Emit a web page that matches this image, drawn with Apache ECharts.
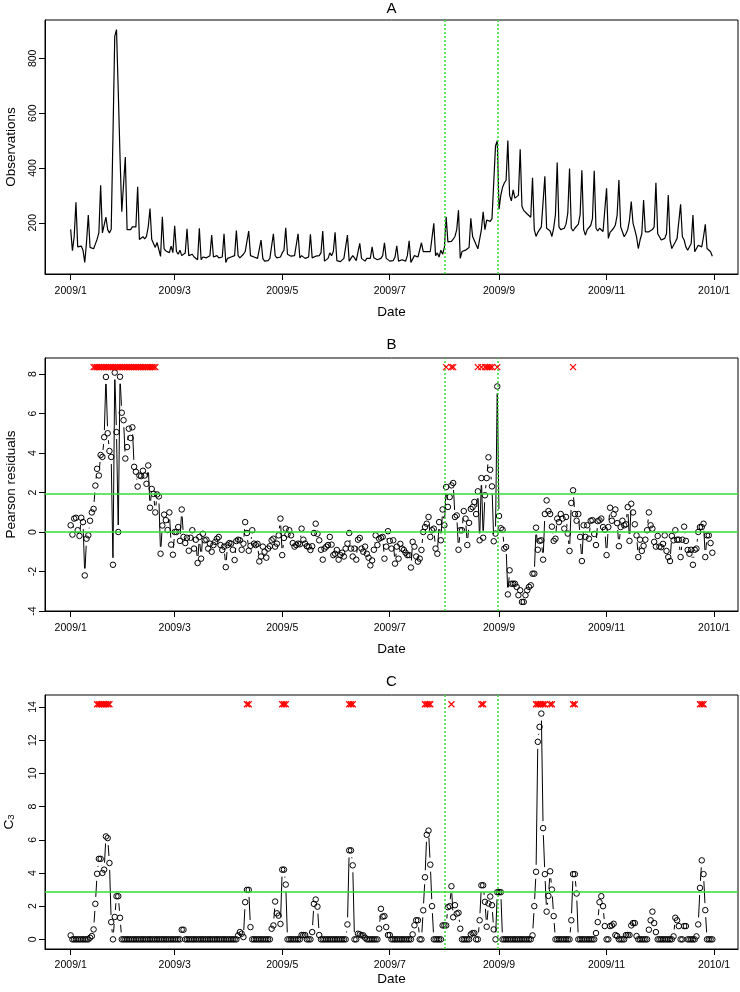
<!DOCTYPE html>
<html><head><meta charset="utf-8">
<script src="https://cdn.jsdelivr.net/npm/echarts@6/dist/echarts.min.js"></script>
<style>html,body{margin:0;padding:0;background:#fff}#c{width:740px;height:992px}</style>
</head><body><div id="c"></div>
<script>
// Daily observations, 2009-01-01 .. 2009-12-31 (one row = one week starting Thursday)
const observations = [
176,98,150,275,112,108,115,
100,55,130,228,110,110,105,
122,140,163,337,163,170,221,
175,163,176,520,880,905,680,
440,240,245,440,175,180,175,
185,180,185,331,139,143,149,
141,150,185,252,139,133,110,
128,128,77,222,105,97,103,
91,115,91,189,95,85,100,
80,85,90,178,80,80,85,
75,70,65,180,65,75,75,
72,70,80,155,75,78,80,
72,70,75,160,55,70,70,
75,70,80,172,80,72,70,
85,95,100,170,80,75,75,
72,70,75,137,70,60,55,
62,70,75,160,80,72,78,
75,90,100,182,85,80,78,
75,80,82,160,72,80,75,
70,68,75,158,72,70,78,
75,80,90,170,60,65,70,
90,80,95,165,62,60,58,
60,70,65,155,60,65,80,
72,62,60,125,70,65,60,
70,75,70,112,72,68,65,
62,70,80,127,70,68,60,
58,62,75,116,60,55,65,
70,60,80,134,55,50,80,
85,75,80,127,95,90,95,
100,95,90,198,80,90,75,
100,85,110,222,130,128,132,
140,150,175,246,70,95,90,
100,95,110,216,150,135,120,
105,110,175,240,175,210,205,
205,215,210,480,500,250,300,
330,345,355,500,300,280,320,
290,290,300,468,260,245,240,
232,225,220,364,175,150,165,
160,185,190,370,180,178,170,
150,180,230,420,185,175,170,
180,195,235,398,180,170,180,
180,195,230,392,175,155,175,
180,190,215,390,180,170,180,
175,168,165,326,143,165,165,
180,192,228,356,185,167,149,
160,175,210,277,199,175,149,
106,137,160,283,167,160,167,
165,175,185,346,160,149,137,
130,143,160,301,137,106,118,
130,143,149,267,149,137,112,
100,94,124,228,94,106,118,
118,112,149,194,106,106,94,
78];

const pearsonResiduals = [
0.34,-0.13,0.68,0.72,0.09,-0.2,0.72,0.5,-2.2,-0.34,
-0.17,0.57,0.99,1.17,2.35,3.2,2.86,3.9,3.8,4.8,
7.85,5.0,4.1,3.8,-1.66,8.07,5.06,0.0,7.86,6.04,
5.66,3.72,4.3,5.23,4.76,5.3,3.3,3.05,2.3,2.86,
2.83,3.1,2.86,2.44,3.37,1.23,2.18,1.93,0.99,1.9,
1.8,-1.1,0.33,0.88,0.6,0.1,0.99,-0.64,-1.15,0.0,
0.0,0.25,-0.45,1.14,-0.25,-0.56,-0.29,-0.95,-0.29,0.09,
-0.84,-0.39,-1.57,-0.25,-1.35,-0.09,-0.42,-0.39,-0.84,-0.59,
-1.0,-0.66,-0.5,-0.34,-0.25,-0.66,-0.91,-0.74,-1.78,-0.66,
-0.56,-0.59,-0.9,-1.42,-0.46,-0.39,-0.42,-0.9,-0.59,0.5,
-0.05,-0.95,-0.7,0.09,-0.59,-0.66,-0.6,-1.49,-1.24,-0.74,
-1.0,-1.3,-0.84,-0.72,-0.42,-0.34,-0.74,-0.59,-0.17,0.68,
-1.17,-0.3,0.17,-0.12,0.09,-0.17,-0.56,-0.74,-0.66,-0.59,
-0.62,0.17,-0.39,-0.59,-0.72,-0.74,-0.91,-0.72,-0.05,0.42,
-0.09,-0.42,-0.9,-1.4,-0.84,-0.74,-0.66,-0.25,-0.64,-1.17,
-1.1,-0.91,-1.4,-1.17,-1.05,-1.24,-0.84,-0.59,-0.05,-0.84,
-1.24,-0.84,-1.4,-0.39,-0.3,-0.84,-1.0,-0.74,-1.1,-1.3,
-1.69,-1.44,-0.9,-0.17,-0.66,-0.34,-0.29,-0.25,-1.35,-0.74,
0.04,-0.45,-0.84,-0.42,-1.6,-0.74,-1.35,-0.6,-0.84,-0.91,
-1.05,-1.17,-1.17,-1.8,-0.5,-0.74,-1.24,-1.5,-1.35,-0.91,
0.0,0.25,0.42,0.76,-0.25,0.09,0.17,-0.84,-1.1,0.5,
-0.42,1.14,0.34,2.28,1.27,1.77,2.36,2.48,0.76,0.84,
-0.9,0.09,0.09,1.06,0.68,-0.66,0.46,1.17,1.26,1.52,
0.91,2.06,-0.42,2.73,-0.29,1.86,2.73,3.78,3.15,2.31,
-0.47,-0.08,7.37,0.81,0.19,0.11,-0.84,-0.76,-3.16,-1.94,
-2.62,-2.62,-2.62,-2.78,-3.2,-2.95,-3.54,-3.54,-3.2,-2.95,
-2.78,-2.7,-2.11,-2.11,0.22,-0.9,-0.45,-0.42,-1.4,0.91,
1.6,1.06,0.91,0.27,-0.45,-0.34,0.68,0.5,0.91,0.68,
0.17,0.76,-0.08,-0.96,1.47,2.11,0.91,0.57,0.91,-0.25,
-1.47,0.34,-0.25,0.34,-0.34,0.57,0.6,-0.1,-0.66,0.55,
0.59,0.68,0.25,0.12,-1.17,0.25,1.23,0.57,0.9,1.14,
0.45,-0.72,0.25,0.57,0.34,0.39,1.26,-0.45,1.43,0.99,
0.39,-0.17,-1.27,-0.39,-0.96,-0.7,-0.39,0.09,0.99,0.34,
0.17,-0.5,-0.74,-0.2,-0.74,-0.77,-0.6,-0.17,-0.96,-1.27,
-1.47,-0.2,-0.42,0.09,-0.39,-0.39,-1.27,-0.39,0.27,-0.45,
-0.91,-1.1,-0.9,-1.66,-0.9,-0.84,0.0,0.25,0.25,0.42,
-1.27,-0.17,-0.17,-0.56,-1.05];

const c3Values = [
0.24,0,0,0,0,0,0,0,0,0,
0,0.1,0.2,0.6,2.14,3.95,4.85,4.85,4.0,4.2,
6.2,6.1,4.6,1.04,0,1.35,2.6,2.6,1.3,0,
0,0,0,0,0,0,0,0,0,0,
0,0,0,0,0,0,0,0,0,0,
0,0,0,0,0,0,0,0,0,0,
0,0,0,0.58,0.58,0,0,0,0,0,
0,0,0,0,0,0,0,0,0,0,
0,0,0,0,0,0,0,0,0,0,
0,0,0,0,0,0.24,0.44,0.34,0.14,2.24,
2.98,2.98,0.74,0,0,0,0,0,0,0,
0,0,0,0,0.64,0.84,2.28,1.57,1.43,0.93,
4.2,4.2,3.3,0,0,0,0,0,0,0,
0,0.26,0.26,0.26,0,0,0,0.44,2.14,2.4,
1.97,0.26,0,0,0,0,0,0,0,0,
0,0,0,0,0,0,0,0.9,5.36,5.36,
4.46,0,0,0.34,0.3,0.24,0.24,0.1,0,0,
0,0,0,0,0,0.65,1.84,1.37,1.4,0.74,
0.26,0.26,0,0,0,0,0,0,0,0,
0,0,0,0,0.3,0.85,1.15,1.15,0,0,
1.75,3.74,6.3,6.55,4.5,2.0,0,0,0,0,
0,0.84,0.84,0.84,1.94,2.0,3.2,1.33,2.06,1.55,
1.6,0.64,0,0,0,0,0,0.3,0.38,0.38,
0,0,1.15,3.26,3.26,2.26,0.76,2.16,2.58,2.06,
0.6,0,2.84,2.84,2.84,0,0,0,0,0,
0,0,0,0,0,0,0,0,0,0,
0,0,0.24,2.0,4.07,11.9,12.8,13.6,6.7,3.93,
1.67,2.62,4.1,3.0,1.4,0,0,0,0,0,
0,0,0,0,1.15,3.93,3.93,2.76,0,0,
0,0,0,0,0,0,0,0,0.38,1.04,
2.24,2.6,2.0,0.8,0,0,0.8,0.84,0.94,0.26,
0.2,0,0,0,0,0.26,0.26,0.26,0.84,0.98,
0.98,0.2,0,0,0,0,0,0,0.58,1.15,
1.67,0.98,0.44,0,0,0,0,0,0,0,
0,0,0.18,1.3,1.15,0.8,0,0,0.8,0.8,
0,0,0,0,0,0.18,0.9,3.1,4.76,3.93,
1.76,0,0,0,0];

// alarm days (index from 2009-01-01)
const alarmDaysB = [13,14,15,16,17,18,19,20,21,22,23,24,25,26,27,28,29,30,31,32,33,34,35,36,37,38,39,40,41,42,43,44,45,46,47,48,
  213,216,217, 231,233,235,236,237,238,239,242, 285];
const alarmDaysC = [15,16,17,18,19,20,21,22, 100,101, 120,121,122, 158,159,160, 201,202,203,204, 216, 233,234,
  264,265,266,267,268,269,272,273, 285,286, 357,358,359];

const tickDays = [0, 59, 120, 181, 243, 304, 365];
const tickLabels = ['2009/1','2009/3','2009/5','2009/7','2009/9','2009/11','2010/1'];
const periodDays = [212, 242];          // 2009-08-01, 2009-08-31
const refLinesB = [0, 1.96];
const refLinesC = [2.88];
const yTicksA = [200, 400, 600, 800];
const yTicksB = [-4, -2, 0, 2, 4, 6, 8];
const yTicksC = [0, 2, 4, 6, 8, 10, 12, 14];

const FONT = '"Liberation Sans", Arial, Helvetica, sans-serif';
const nDays = observations.length;
const pad = (nDays - 1) * 0.04;
const GREEN = '#33dd33';
const GAP = 7;   // px gap around points on connecting segments (R type="b")

function xAxis(gi, labelMargin, nameGap) {
  return {
    type: 'value', gridIndex: gi, min: -pad, max: nDays - 1 + pad,
    name: 'Date', nameLocation: 'middle', nameGap: nameGap,
    nameTextStyle: { fontFamily: FONT, fontSize: 13.5, color: '#000' },
    axisLine: { show: true, onZero: false, lineStyle: { color: '#000', width: 1 } },
    axisTick: { show: true, inside: false, length: 6, customValues: tickDays, lineStyle: { color: '#000', width: 1 } },
    axisLabel: { show: true, margin: labelMargin, customValues: tickDays, fontFamily: FONT, fontSize: 10.5, color: '#000',
      formatter: v => tickLabels[tickDays.indexOf(v)] },
    splitLine: { show: false }
  };
}
function yAxis(gi, min, max, ticks, name, nameGap, nameStyle) {
  return {
    type: 'value', gridIndex: gi, min: min, max: max,
    name: name, nameLocation: 'middle', nameGap: nameGap, nameRotate: 90,
    nameTextStyle: Object.assign({ fontFamily: FONT, fontSize: 13.5, color: '#000' }, nameStyle || {}),
    axisLine: { show: true, onZero: false, lineStyle: { color: '#000', width: 1 } },
    axisTick: { show: true, inside: false, length: 6, customValues: ticks, lineStyle: { color: '#000', width: 1 } },
    axisLabel: { show: true, rotate: 90, margin: 6, customValues: ticks, fontFamily: FONT, fontSize: 10.5, color: '#000' },
    splitLine: { show: false }
  };
}
function refSeries(gi, hLines) {
  const data = periodDays.map(d => ({ xAxis: d, lineStyle: { color: GREEN, width: 1.5, type: [2, 2] } }))
    .concat(hLines.map(h => ({ yAxis: h, lineStyle: { color: GREEN, width: 1.6, type: 'solid' } })));
  return {
    type: 'line', xAxisIndex: gi, yAxisIndex: gi, data: [], z: 5, silent: true,
    markLine: { silent: true, symbol: ['none', 'none'], label: { show: false }, animation: false, data: data }
  };
}
// connecting segments trimmed near each point, positions from the axes via api.coord
function segmentSeries(gi, values) {
  const segs = [];
  for (let i = 0; i < values.length - 1; i++) segs.push([i, values[i], i + 1, values[i + 1]]);
  return {
    type: 'custom', xAxisIndex: gi, yAxisIndex: gi, z: 2, silent: true,
    data: segs, encode: { x: [0, 2], y: [1, 3] },
    renderItem: function (params, api) {
      const p1 = api.coord([api.value(0), api.value(1)]);
      const p2 = api.coord([api.value(2), api.value(3)]);
      const dx = p2[0] - p1[0], dy = p2[1] - p1[1];
      const L = Math.sqrt(dx * dx + dy * dy);
      if (L <= 2 * GAP) return null;
      const f = GAP / L;
      return {
        type: 'line',
        shape: { x1: p1[0] + f * dx, y1: p1[1] + f * dy, x2: p2[0] - f * dx, y2: p2[1] - f * dy },
        style: { stroke: '#000', lineWidth: 1 }
      };
    }
  };
}
function pointSeries(gi, values) {
  return {
    type: 'scatter', xAxisIndex: gi, yAxisIndex: gi, z: 3, silent: true,
    data: values.map((v, i) => [i, v]),
    symbol: 'circle', symbolSize: 5.5,
    itemStyle: { color: 'rgba(0,0,0,0)', borderColor: '#000', borderWidth: 1, opacity: 1 }
  };
}
const XPATH = 'path://M0,0L10,10M10,0L0,10';
function alarmSeries(gi, days, level) {
  return {
    type: 'scatter', xAxisIndex: gi, yAxisIndex: gi, z: 6, silent: true,
    data: days.map(d => [d, level]),
    symbol: XPATH, symbolSize: 6,
    itemStyle: { color: 'rgba(0,0,0,0)', borderColor: '#ff0000', borderWidth: 1.2, opacity: 1 }
  };
}
function grid(top, height) {
  return { left: 45, top: top, width: 693, height: height, containLabel: false, outerBoundsMode: 'none',
    show: true, borderColor: '#000', borderWidth: 1, backgroundColor: 'transparent' };
}

const chart = echarts.init(document.getElementById('c'), null, { renderer: 'canvas' });
const titleStyle = { fontFamily: FONT, fontSize: 15, fontWeight: 'normal', color: '#000' };
chart.setOption({
  animation: false,
  backgroundColor: '#fff',
  title: [
    { text: 'A', left: 391.5, top: 1, textAlign: 'center', padding: 0, textStyle: titleStyle },
    { text: 'B', left: 391.5, top: 337, textAlign: 'center', padding: 0, textStyle: titleStyle },
    { text: 'C', left: 391.5, top: 674, textAlign: 'center', padding: 0, textStyle: titleStyle }
  ],
  grid: [ grid(20, 254), grid(358, 253), grid(695, 254) ],
  xAxis: [ xAxis(0, 12, 31), xAxis(1, 12, 31), xAxis(2, 11, 22) ],
  yAxis: [
    yAxis(0, 13, 940, yTicksA, 'Observations', 27),
    yAxis(1, -4, 8.81, yTicksB, 'Pearson residuals', 27),
    yAxis(2, -0.58, 14.72, yTicksC, '{c|C}{s|3}', 29, {
      rich: { c: { fontFamily: FONT, fontSize: 13.5, color: '#000', verticalAlign: 'bottom', lineHeight: 18 },
              s: { fontFamily: FONT, fontSize: 9.5, color: '#000', verticalAlign: 'bottom', lineHeight: 12 } } })
  ],
  series: [
    { type: 'line', xAxisIndex: 0, yAxisIndex: 0, data: observations.map((v, i) => [i, v]),
      symbol: 'none', lineStyle: { color: '#000', width: 1.2 }, z: 3, silent: true },
    refSeries(0, []),
    segmentSeries(1, pearsonResiduals),
    pointSeries(1, pearsonResiduals),
    refSeries(1, refLinesB),
    alarmSeries(1, alarmDaysB, 8.35),
    segmentSeries(2, c3Values),
    pointSeries(2, c3Values),
    refSeries(2, refLinesC),
    alarmSeries(2, alarmDaysC, 14.16)
  ]
});
</script>
</body></html>
